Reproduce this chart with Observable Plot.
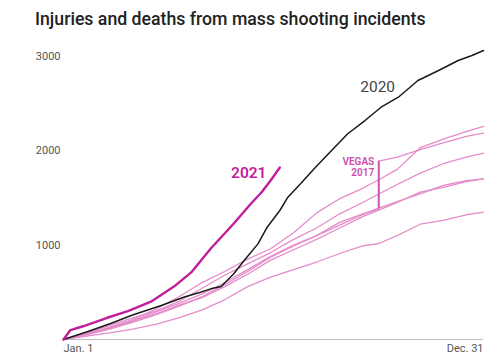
<!DOCTYPE html>
<html>
<head>
<meta charset="utf-8">
<script src="https://cdn.jsdelivr.net/npm/d3@7"></script>
<script src="https://cdn.jsdelivr.net/npm/@observablehq/plot@0.6"></script>
<style>
  html, body { margin: 0; padding: 0; background: #fff; }
  body { width: 500px; height: 362px; overflow: hidden; font-family: Roboto, "Open Sans", sans-serif; }
  #title { height: 30px; padding-left: 35px; font-size: 17.7px; font-weight: 500; color: #222; line-height: 30px; padding-top: 4px; box-sizing: border-box; white-space: nowrap; }
</style>
</head>
<body>
<div id="title">Injuries and deaths from mass shooting incidents</div>
<div id="chart"></div>
<script>
// ---- Data (day of year, cumulative injuries + deaths) ----
const days2020 = [0, 20, 41, 60, 85, 105, 119, 128, 137, 148, 157, 169, 177, 188, 195, 206, 218, 233, 247, 262, 276, 291, 308, 326, 343, 355, 365];
const vals2020 = [0, 80, 170, 260, 360, 450, 500, 536, 560, 695, 836, 1012, 1188, 1365, 1506, 1648, 1810, 2000, 2177, 2317, 2458, 2564, 2741, 2847, 2952, 3005, 3058];

const days2021 = [0, 6, 17, 38, 56, 76, 96, 111, 128, 148, 163, 172, 180, 188];
const vals2021 = [0, 100, 140, 230, 300, 400, 560, 710, 963, 1228, 1439, 1556, 1683, 1820];

const pinkDays = [0, 20, 40, 60, 80, 100, 120, 140, 160, 180, 200, 220, 240, 260, 274, 290, 310, 330, 350, 365];
const vals2019 = [0, 60, 130, 210, 320, 450, 600, 720, 850, 960, 1130, 1340, 1490, 1600, 1690, 1800, 2030, 2120, 2200, 2254];
const vals2016 = [0, 70, 150, 230, 300, 400, 540, 680, 800, 920, 1060, 1180, 1330, 1450, 1540, 1640, 1760, 1860, 1930, 1972];
const vals2015 = [0, 50, 110, 180, 260, 350, 450, 580, 720, 870, 990, 1100, 1240, 1330, 1390, 1460, 1540, 1630, 1680, 1700];
const vals2018 = [0, 55, 120, 190, 270, 360, 440, 560, 690, 840, 950, 1060, 1180, 1300, 1370, 1450, 1560, 1610, 1670, 1700];
const vals2014 = [0, 35, 70, 110, 160, 230, 310, 420, 560, 660, 740, 820, 910, 990, 1016, 1100, 1220, 1260, 1320, 1347];

const days2017 = [0, 20, 40, 60, 80, 100, 120, 140, 160, 180, 200, 220, 240, 260, 274, 274, 290, 310, 330, 350, 365];
const vals2017 = [0, 60, 120, 200, 290, 380, 480, 600, 740, 880, 1000, 1100, 1210, 1320, 1383, 1887, 1930, 2010, 2080, 2150, 2183];

const vegasDay = 274;
const vegasRange = [1383, 1887];

const yTicks = [1000, 2000, 3000];
const xTickDays = [0, 365];
const xTickLabels = ["Jan. 1", "Dec. 31"];

// ---- Build tidy rows ----
const toRows = (year, days, vals) => days.map((d, i) => ({year, day: d, value: vals[i]}));
const pinkRows = [
  ...toRows("2014", pinkDays, vals2014),
  ...toRows("2015", pinkDays, vals2015),
  ...toRows("2016", pinkDays, vals2016),
  ...toRows("2018", pinkDays, vals2018),
  ...toRows("2019", pinkDays, vals2019),
  ...toRows("2017", days2017, vals2017)
];
const rows2020 = toRows("2020", days2020, vals2020);
const rows2021 = toRows("2021", days2021, vals2021);

const PINK = "#e58bca";
const MAGENTA = "#c21d9c";
const VEGAS = "#cc4aab";

const chart = Plot.plot({
  width: 500,
  height: 332,
  marginLeft: 63,
  marginRight: 17,
  marginTop: 25.5,
  marginBottom: 23,
  style: {fontFamily: "Roboto, sans-serif", background: "#fff"},
  x: {domain: [0, 365]},
  y: {domain: [0, 3000]},
  marks: [
    Plot.ruleY([0], {stroke: "#bdbdbd", strokeWidth: 1}),
    Plot.axisY(yTicks, {tickSize: 0, tickPadding: 3, tickFormat: d => String(d), fontSize: 11, fill: "#555", label: null}),
    Plot.axisX([xTickDays[0]], {tickSize: 0, tickPadding: 5, tickFormat: () => xTickLabels[0], textAnchor: "start", fontSize: 11, fill: "#555", label: null}),
    Plot.axisX([xTickDays[1]], {tickSize: 0, tickPadding: 5, tickFormat: () => xTickLabels[1], textAnchor: "end", fontSize: 11, fill: "#555", label: null}),
    Plot.line(pinkRows, {x: "day", y: "value", z: "year", stroke: PINK, strokeWidth: 1.3}),
    Plot.ruleX([vegasDay], {y1: vegasRange[0], y2: vegasRange[1], stroke: VEGAS, strokeWidth: 2.2, strokeOpacity: 0.8}),
    Plot.line(rows2020, {x: "day", y: "value", stroke: "#1a1a1a", strokeWidth: 1.5}),
    Plot.line(rows2021, {x: "day", y: "value", stroke: MAGENTA, strokeWidth: 2.4}),
    Plot.text(["2020"], {x: 273, y: 2667, text: d => d, fill: "#444", fontSize: 15.5, textAnchor: "middle", lineAnchor: "middle"}),
    Plot.text(["2021"], {x: 161, y: 1757, text: d => d, fill: MAGENTA, fontSize: 15.5, fontWeight: 600, textAnchor: "middle", lineAnchor: "middle"}),
    Plot.text(["VEGAS"], {x: 270, y: 1880, text: d => d, fill: VEGAS, fontSize: 10, fontWeight: 600, textAnchor: "end", lineAnchor: "middle"}),
    Plot.text(["2017"], {x: 270, y: 1760, text: d => d, fill: VEGAS, fontSize: 10, fontWeight: 600, textAnchor: "end", lineAnchor: "middle"})
  ]
});
document.getElementById("chart").appendChild(chart);
</script>
</body>
</html>
